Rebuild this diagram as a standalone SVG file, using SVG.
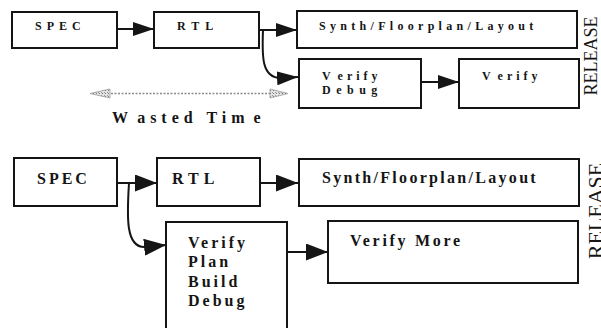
<svg xmlns="http://www.w3.org/2000/svg" width="601" height="328" viewBox="0 0 601 328">
  <style>
    .box { fill: #fff; stroke: #151515; stroke-width: 2; }
    .wire { fill: none; stroke: #151515; stroke-width: 2; }
    .t1 { font-family: "Liberation Serif", "Times New Roman", serif; font-weight: bold; font-size: 12px; fill: #151515; letter-spacing: 5px; }
    .t2 { font-family: "Liberation Serif", "Times New Roman", serif; font-weight: bold; font-size: 16px; fill: #151515; }
    .rel { font-family: "Liberation Serif", "Times New Roman", serif; fill: #151515; text-anchor: middle; }
  </style>
  <defs>
    <marker id="headS" markerUnits="userSpaceOnUse" markerWidth="22" markerHeight="14" refX="21" refY="7" orient="auto">
      <path d="M0,0 L21,7 L0,14 Z" fill="#151515"/>
    </marker>
    <marker id="headL" markerUnits="userSpaceOnUse" markerWidth="23" markerHeight="17" refX="22" refY="8.5" orient="auto">
      <path d="M0,0 L22,8.5 L0,17 Z" fill="#151515"/>
    </marker>
    <pattern id="grain" patternUnits="userSpaceOnUse" width="3" height="3">
      <rect width="3" height="3" fill="#e4e4e4"/>
      <rect width="1" height="1" fill="#777"/>
      <rect x="2" y="2" width="1" height="1" fill="#999"/>
    </pattern>
  </defs>

  <!-- upper flow: serial verification -->
  <g id="spec-a"><rect class="box" x="12" y="12" width="105" height="36"/><text class="t1" x="35" y="30">SPEC</text></g>
  <g id="rtl-a"><rect class="box" x="154" y="12" width="105" height="36"/><text class="t1" x="177" y="30" style="letter-spacing:6px">RTL</text></g>
  <g id="synth-a"><rect class="box" x="297" y="11" width="280" height="37"/><text class="t1" x="319" y="30" style="letter-spacing:4.3px">Synth/Floorplan/Layout</text></g>
  <g id="verify-debug-a"><rect class="box" x="299" y="59" width="122" height="49"/>
    <text class="t1" x="322" y="80" style="letter-spacing:4px"><tspan>V</tspan><tspan dx="4">erify</tspan></text>
    <text class="t1" x="322" y="94" style="letter-spacing:5.5px">Debug</text></g>
  <g id="verify-a"><rect class="box" x="459" y="59" width="120" height="49"/>
    <text class="t1" x="482" y="80" style="letter-spacing:4px"><tspan>V</tspan><tspan dx="4">erify</tspan></text></g>
  <g id="release-a"><text class="rel" font-size="18" transform="translate(597,56) rotate(-90)">RELEASE</text></g>

  <!-- wasted time span -->
  <g id="wasted-time">
    <line x1="104" y1="93.5" x2="274" y2="93.5" stroke="#8a8a8a" stroke-width="1.5" stroke-dasharray="2 1.5"/>
    <path d="M90,93.5 L110,89 L110,98 Z" fill="url(#grain)" stroke="#9a9a9a" stroke-width="0.8"/>
    <path d="M288,93.5 L270,89 L270,98 Z" fill="url(#grain)" stroke="#9a9a9a" stroke-width="0.8"/>
    <text x="112" y="123" font-family="Liberation Serif, Times New Roman, serif" font-weight="bold" font-size="16" fill="#151515" letter-spacing="5"><tspan>W</tspan><tspan dx="5">asted Tim</tspan><tspan dx="4">e</tspan></text>
  </g>

  <!-- lower flow: verification in parallel -->
  <g id="spec-b"><rect class="box" x="14" y="158" width="103" height="48"/><text class="t2" x="37" y="184" letter-spacing="3">SPEC</text></g>
  <g id="rtl-b"><rect class="box" x="157" y="158" width="103" height="48"/><text class="t2" x="172" y="184" letter-spacing="5">RTL</text></g>
  <g id="synth-b"><rect class="box" x="299" y="159" width="280" height="47"/><text class="t2" x="322" y="183" letter-spacing="2.3">Synth/Floorplan/Layout</text></g>
  <g id="verify-plan-b"><path class="wire" d="M166,332 V222 H287 V332"/>
    <text class="t2" letter-spacing="3"><tspan x="188" y="248">Verify</tspan><tspan x="188" y="267">Plan</tspan><tspan x="188" y="287">Build</tspan><tspan x="188" y="306">Debug</tspan></text></g>
  <g id="verify-more-b"><rect class="box" x="328" y="221" width="250" height="62"/><text class="t2" x="350" y="246" letter-spacing="2.7">Verify More</text></g>
  <g id="release-b"><text class="rel" font-size="22" transform="translate(603,211) rotate(-90)">RELEASE</text></g>

  <!-- connectors -->
  <g id="connectors">
    <path class="wire" d="M117,29 L154,29" marker-end="url(#headS)"/>
    <path class="wire" d="M259,30 L297,30" marker-end="url(#headS)"/>
    <path class="wire" d="M263,30 C262,55 261,79 282,78 L298,77" marker-end="url(#headS)"/>
    <path class="wire" d="M421,82 L459,82" marker-end="url(#headS)"/>
    <path class="wire" d="M117,183 L157,183" marker-end="url(#headL)"/>
    <path class="wire" d="M260,183 L298,183" marker-end="url(#headL)"/>
    <path class="wire" d="M129,183 C127,215 125,249 146,247 L166,245" marker-end="url(#headL)"/>
    <path class="wire" d="M287,252 L328,252" marker-end="url(#headL)"/>
  </g>
</svg>
